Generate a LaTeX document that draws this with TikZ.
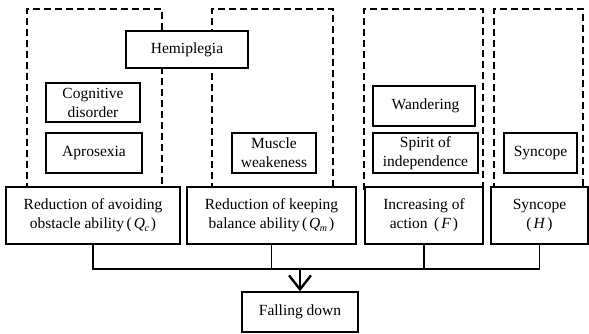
\documentclass[tikz,border=0pt]{standalone}
\usepackage{fontspec}
\setmainfont{Liberation Serif}
\usetikzlibrary{arrows.meta}
\newcommand{\lp}{\hspace{2.5pt}(\hspace{2pt}}
\newcommand{\rp}{\hspace{2pt})}
\newcommand{\sub}[2]{\textit{#1}\kern-0.5pt\raisebox{-0.35ex}{\fontsize{10}{10}\selectfont\textit{#2}}}
\begin{document}
\begin{tikzpicture}[x=1pt,y=-1pt,
  box/.style={draw,line width=1.4pt,fill=white,inner sep=0pt,align=center,
    font=\fontsize{15.5}{19}\selectfont},
  grp/.style={draw,line width=1.3pt,dash pattern=on 7pt off 4pt},
  link/.style={line width=1.4pt}]
\useasboundingbox (0,0) rectangle (589,333);
% dashed groups
\draw[grp] (27,190) -- (27,9) -- (162,9) -- (162,190);
\draw[grp] (212,190) -- (212,9) -- (333,9) -- (333,190);
\draw[grp] (364,190) -- (364,9) -- (483,9) -- (483,190);
\draw[grp] (494,190) -- (494,9) -- (583,9) -- (583,190);
% inner boxes
\node[box,minimum width=122pt,minimum height=37pt] (hemi) at (187,49.5) {Hemiplegia};
\node[box,minimum width=94pt,minimum height=39pt] (cog) at (93,102.5) {Cognitive\\disorder};
\node[box,minimum width=96pt,minimum height=40pt] (apro) at (94,153) {Aprosexia};
\node[box,minimum width=84pt,minimum height=40pt] (musc) at (274,153) {Muscle\\weakeness};
\node[box,minimum width=102pt,minimum height=40pt] (wand) at (424,106) {\hspace{3pt}Wandering};
\node[box,minimum width=105pt,minimum height=40pt] (spir) at (425.5,153) {Spirit of\\independence};
\node[box,minimum width=73pt,minimum height=40pt] (sync) at (540.5,153) {Syncope};
% factor boxes
\node[box,minimum width=174pt,minimum height=57pt] (qc) at (93,215.5) {Reduction of avoiding\\obstacle ability\lp\sub{Q}{c}\rp};
\node[box,minimum width=169pt,minimum height=57pt] (qm) at (271.5,215.5) {Reduction of keeping\\balance ability\lp\sub{Q}{m}\rp};
\node[box,minimum width=118pt,minimum height=57pt] (f) at (424,215.5) {Increasing of\\action\hspace{4pt}\lp\textit{F}\rp};
\node[box,minimum width=97pt,minimum height=57pt] (h) at (539.5,215.5) {Syncope\\(\hspace{2pt}\textit{H}\hspace{2pt})};
\node[box,minimum width=116pt,minimum height=40pt] (fall) at (300,312) {Falling down};
% connectors
\coordinate (bus) at (0,269);
\draw[link] (qc.south) -- (qc.south |- bus) -| (h.south);
\draw[link] (qm.south) -- (qm.south |- bus);
\draw[link] (f.south) -- (f.south |- bus);
\draw[line width=2.4pt,-{Straight Barb[length=14pt,width=22pt]}] (fall.north |- bus) -- (fall.north);
\end{tikzpicture}
\end{document}
